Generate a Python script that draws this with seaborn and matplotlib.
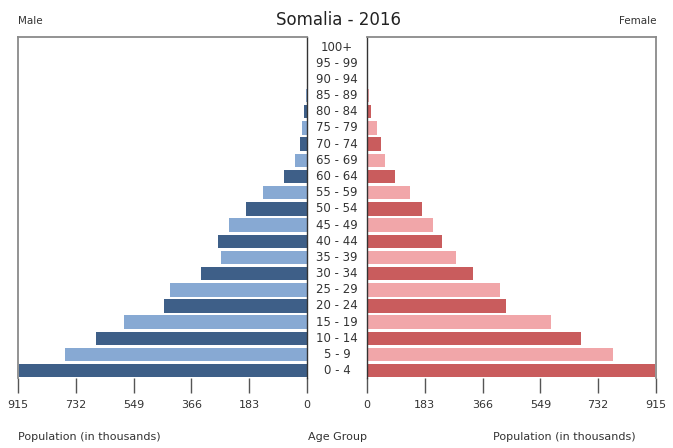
import matplotlib
matplotlib.use("Agg")
import matplotlib.pyplot as plt
import seaborn as sns
import pandas as pd

age_groups = ["0 - 4", "5 - 9", "10 - 14", "15 - 19", "20 - 24", "25 - 29", "30 - 34",
              "35 - 39", "40 - 44", "45 - 49", "50 - 54", "55 - 59", "60 - 64", "65 - 69",
              "70 - 74", "75 - 79", "80 - 84", "85 - 89", "90 - 94", "95 - 99", "100+"]
male = [912, 766, 668, 578, 452, 435, 336, 272, 281, 248, 193, 139, 72, 37, 23, 16, 8.5, 2, 1, 0.5, 0.3]
female = [912, 780, 679, 581, 440, 422, 336, 281, 237, 209, 175, 135, 89, 57, 43, 31, 14, 5, 2, 1, 0.5]
tick_values = [0, 183, 366, 549, 732, 915]
tick_labels = ["0", "183", "366", "549", "732", "915"]

male_dark, male_light = "#3e5f88", "#87a9d3"
fem_dark, fem_light = "#c95c5d", "#f1a6a9"

order = age_groups[::-1]
df = pd.DataFrame({"age": age_groups, "male": male, "female": female})
male_pal = {a: (male_dark if i % 2 == 0 else male_light) for i, a in enumerate(age_groups)}
fem_pal = {a: (fem_dark if i % 2 == 0 else fem_light) for i, a in enumerate(age_groups)}

sns.set_style("white")
plt.rcParams["font.family"] = ["DejaVu Sans"]

W, H = 673, 448
fig = plt.figure(figsize=(W / 100, H / 100), dpi=100)
bottom_px, top_px = 378, 37
ax_m = fig.add_axes([18 / W, 1 - bottom_px / H, 289 / W, (bottom_px - top_px) / H])
ax_f = fig.add_axes([367 / W, 1 - bottom_px / H, 289 / W, (bottom_px - top_px) / H])
ax_c = fig.add_axes([307 / W, 1 - bottom_px / H, 60 / W, (bottom_px - top_px) / H])

n = len(age_groups)
ylim = (n - 1 + 0.45, -0.62)

sns.barplot(data=df, y="age", x="male", hue="age", order=order, hue_order=order,
            palette=male_pal, orient="h", width=0.83, legend=False, ax=ax_m,
            linewidth=0, saturation=1)
sns.barplot(data=df, y="age", x="female", hue="age", order=order, hue_order=order,
            palette=fem_pal, orient="h", width=0.83, legend=False, ax=ax_f,
            linewidth=0, saturation=1)

text_col = "#333333"
for ax, xl in ((ax_m, (915, 0)), (ax_f, (0, 915))):
    ax.set_xlim(*xl)
    ax.set_ylim(*ylim)
    ax.set_xticks(tick_values)
    ax.set_xticklabels(tick_labels)
    ax.set_yticks([])
    ax.set_xlabel("")
    ax.set_ylabel("")
    ax.tick_params(axis="x", direction="out", length=11, width=1.0, color="#555555",
                   labelsize=8, labelcolor=text_col, pad=5, bottom=True)
    ax.spines["bottom"].set_visible(False)
    for s in ("top", "left", "right"):
        ax.spines[s].set_color("#8a8a8a")
        ax.spines[s].set_linewidth(1.3)
ax_m.spines["right"].set_color("#333333")
ax_m.spines["right"].set_linewidth(1.0)
ax_f.spines["left"].set_color("#333333")
ax_f.spines["left"].set_linewidth(1.0)

ax_c.set_ylim(*ylim)
ax_c.set_xlim(0, 1)
ax_c.axis("off")
for i, a in enumerate(order):
    ax_c.text(0.5, i, a, ha="center", va="center", fontsize=8.5, color=text_col)

fig.text(338 / W, 1 - 20 / H, "Somalia - 2016", ha="center", va="center", fontsize=12, color="#222222")
fig.text(18 / W, 1 - 21 / H, "Male", ha="left", va="center", fontsize=7.5, color=text_col)
fig.text(656 / W, 1 - 21 / H, "Female", ha="right", va="center", fontsize=7.5, color=text_col)
fig.text(18 / W, 1 - 437 / H, "Population (in thousands)", ha="left", va="center", fontsize=8, color=text_col)
fig.text(337 / W, 1 - 437 / H, "Age Group", ha="center", va="center", fontsize=8, color=text_col)
fig.text(493 / W, 1 - 437 / H, "Population (in thousands)", ha="left", va="center", fontsize=8, color=text_col)

fig.savefig("out.png", dpi=100)
